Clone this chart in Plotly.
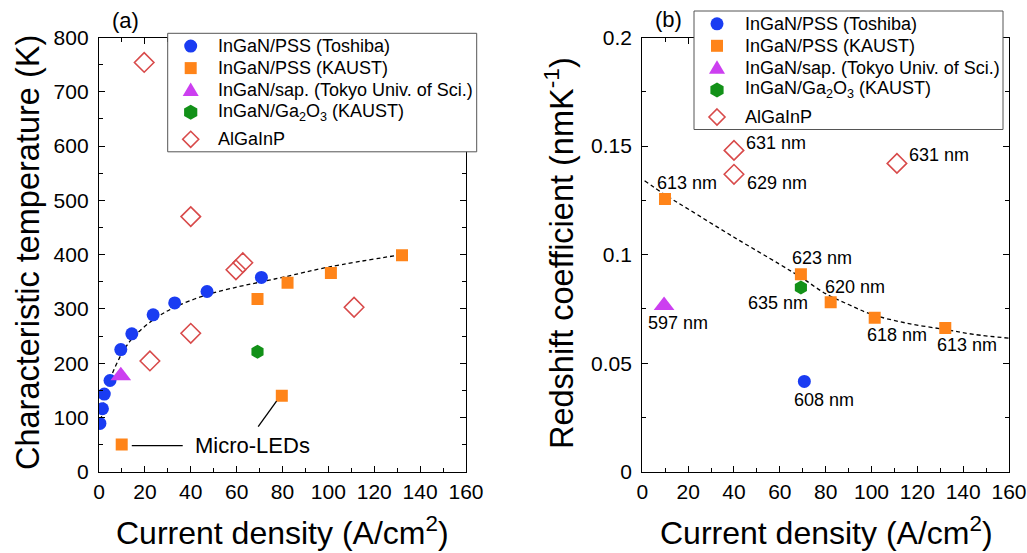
import plotly.graph_objects as go

# ---------------- data: panel (a) characteristic temperature ----------------
toshiba_j = [0.4, 1.5, 2.3, 4.8, 9.5, 14.3, 23.6, 33.0, 47.1, 70.8]
toshiba_t0 = [89, 116, 143, 168, 225, 254, 289, 311, 332, 358]
kaust_j = [9.9, 69.1, 79.7, 82.2, 101.1, 132.1]
kaust_t0 = [50, 318, 140, 348, 366, 399]
tokyo_j = [9.5]
tokyo_t0 = [177]
ga2o3_j = [69.1]
ga2o3_t0 = [221]
algainp_j = [19.7, 22.2, 40.0, 40.0, 59.7, 62.7, 111.2]
algainp_t0 = [754, 204, 470, 255, 372, 385, 303]
fit_a_j = [0.3, 1.5, 2.5, 5, 10, 15, 24, 33, 47, 61, 71, 81, 100, 132]
fit_a_t0 = [82, 112, 138, 172, 218, 248, 281, 303, 326, 341, 350, 359, 377, 400]

# ---------------- data: panel (b) redshift coefficient ----------------
toshiba_rj = [70.7]
toshiba_rc = [0.0416]
kaust_rj = [9.9, 69.2, 82.2, 101.4, 132.2]
kaust_rc = [0.1256, 0.091, 0.078, 0.0709, 0.0662]
tokyo_rj = [9.5]
tokyo_rc = [0.0765]
ga2o3_rj = [69.2]
ga2o3_rc = [0.0849]
algainp_rj = [40.0, 40.0, 111.1]
algainp_rc = [0.148, 0.137, 0.142]
fit_b_j = [1, 10, 20, 40, 60, 70, 80, 90, 100, 115, 132, 145, 160]
fit_b_c = [0.134, 0.1275, 0.121, 0.108, 0.0955, 0.089, 0.082, 0.077, 0.0725, 0.0685, 0.0655, 0.0632, 0.0615]

wl_labels = ["613 nm", "623 nm", "620 nm", "635 nm", "597 nm", "618 nm", "613 nm", "608 nm",
             "631 nm", "629 nm", "631 nm"]
wl_label_j = [19.4, 78.3, 92.8, 59.3, 15.7, 111.0, 141.5, 79.3, 58.3, 58.6, 129.4]
wl_label_c = [0.1328, 0.0985, 0.0852, 0.0775, 0.0684, 0.0630, 0.0583, 0.0331, 0.1512, 0.1328, 0.1458]

series_names = ["InGaN/PSS (Toshiba)", "InGaN/PSS (KAUST)", "InGaN/sap. (Tokyo Univ. of Sci.)",
                "InGaN/Ga<sub>2</sub>O<sub>3</sub> (KAUST)", "AlGaInP"]

FONT = "Liberation Sans, Arial, sans-serif"
BLUE = "#1a3cf2"
ORANGE = "#ff8419"
MAGENTA = "#cc3ff0"
GREEN = "#129118"
RED = "#d84a4a"

markers = [
    dict(symbol="circle", size=13, color=BLUE, line=dict(width=0)),
    dict(symbol="square", size=12, color=ORANGE, line=dict(width=0)),
    dict(symbol="triangle-up", size=18, color=MAGENTA, line=dict(width=0)),
    dict(symbol="hexagon", size=14, color=GREEN, line=dict(width=0)),
    dict(symbol="diamond-open", size=15, color=RED, line=dict(width=1.6, color=RED)),
]

fig = go.Figure()

# fit curves (drawn first, below markers)
fig.add_trace(go.Scatter(x=fit_a_j, y=fit_a_t0, mode="lines", line=dict(color="black", width=1.3, dash="4px,3px", shape="spline"),
                         showlegend=False, hoverinfo="skip", xaxis="x", yaxis="y"))
fig.add_trace(go.Scatter(x=fit_b_j, y=fit_b_c, mode="lines", line=dict(color="black", width=1.3, dash="4px,3px", shape="spline"),
                         showlegend=False, hoverinfo="skip", xaxis="x2", yaxis="y2"))

panel_a = [(toshiba_j, toshiba_t0), (kaust_j, kaust_t0), (tokyo_j, tokyo_t0), (ga2o3_j, ga2o3_t0), (algainp_j, algainp_t0)]
panel_b = [(toshiba_rj, toshiba_rc), (kaust_rj, kaust_rc), (tokyo_rj, tokyo_rc), (ga2o3_rj, ga2o3_rc), (algainp_rj, algainp_rc)]

for (x, y), name, mk in zip(panel_a, series_names, markers):
    fig.add_trace(go.Scatter(x=x, y=y, mode="markers", name=name, marker=mk, xaxis="x", yaxis="y", showlegend=False))
for (x, y), name, mk in zip(panel_b, series_names, markers):
    fig.add_trace(go.Scatter(x=x, y=y, mode="markers", name=name, marker=mk, xaxis="x2", yaxis="y2", showlegend=False))

axis_common = dict(showline=True, linecolor="black", linewidth=1.3, mirror="ticks", ticks="inside",
                   ticklen=6, tickwidth=1.2, tickcolor="black", showgrid=False, zeroline=False,
                   automargin=False,
                   tickfont=dict(size=21, color="black", family=FONT))

W, H = 1027, 553

fig.update_layout(
    width=W, height=H,
    margin=dict(l=0, r=0, t=0, b=0, pad=0, autoexpand=False),
    paper_bgcolor="white", plot_bgcolor="white",
    font=dict(family=FONT, color="black"),
    showlegend=False,
    xaxis=dict(domain=[99 / W, 466 / W], range=[0, 160], dtick=20, tick0=0, anchor="y", ticklabelstandoff=1,
               minor=dict(dtick=10, ticks="inside", ticklen=4, tickwidth=1.2, tickcolor="black", showgrid=False),
               **axis_common),
    yaxis=dict(domain=[1 - 471.7 / H, 1 - 37.5 / H], range=[0, 800], dtick=100, tick0=0, anchor="x", ticklabelstandoff=5,
               minor=dict(dtick=50, ticks="inside", ticklen=4, tickwidth=1.2, tickcolor="black", showgrid=False),
               **axis_common),
    xaxis2=dict(domain=[642.3 / W, 1009 / W], range=[0, 160], dtick=20, tick0=0, anchor="y2", ticklabelstandoff=1,
                minor=dict(dtick=10, ticks="inside", ticklen=4, tickwidth=1.2, tickcolor="black", showgrid=False),
                **axis_common),
    yaxis2=dict(domain=[1 - 471.7 / H, 1 - 37.5 / H], range=[0, 0.2], dtick=0.05, tick0=0, anchor="x2", ticklabelstandoff=5,
                minor=dict(dtick=0.025, ticks="inside", ticklen=4, tickwidth=1.2, tickcolor="black", showgrid=False),
                **axis_common),
)

def px(x):
    return x / W

def py(y):
    return 1 - y / H

annotations = [
    dict(text="Characteristic temperature (K)", x=px(28), y=py(253), xref="paper", yref="paper",
         textangle=-90, showarrow=False, font=dict(size=32.5), xanchor="center", yanchor="middle"),
    dict(text="Redshift coefficient (nmK<sup>-1</sup>)", x=px(559), y=py(253), xref="paper", yref="paper",
         textangle=-90, showarrow=False, font=dict(size=32.5), xanchor="center", yanchor="middle"),
    dict(text="Current density (A/cm<sup>2</sup>)", x=px(282.5), y=py(531), xref="paper", yref="paper",
         showarrow=False, font=dict(size=32), xanchor="center", yanchor="middle"),
    dict(text="Current density (A/cm<sup>2</sup>)", x=px(826), y=py(531), xref="paper", yref="paper",
         showarrow=False, font=dict(size=32), xanchor="center", yanchor="middle"),
    dict(text="(a)", x=px(125), y=py(21), xref="paper", yref="paper",
         showarrow=False, font=dict(size=22), xanchor="center", yanchor="middle"),
    dict(text="(b)", x=px(668), y=py(19), xref="paper", yref="paper",
         showarrow=False, font=dict(size=22), xanchor="center", yanchor="middle"),
    dict(text="Micro-LEDs", x=41.0, y=49, xref="x", yref="y", showarrow=False,
         font=dict(size=22), xanchor="left", yanchor="middle"),
]
for t, xj, yc in zip(wl_labels, wl_label_j, wl_label_c):
    annotations.append(dict(text=t, x=xj, y=yc, xref="x2", yref="y2", showarrow=False,
                            font=dict(size=18), xanchor="center", yanchor="middle"))

shapes = [
    dict(type="line", xref="x", yref="y", x0=14.3, y0=48, x1=36.5, y1=48, line=dict(color="black", width=1.3)),
    dict(type="line", xref="x", yref="y", x0=69.4, y0=83, x1=77.4, y1=130, line=dict(color="black", width=1.3)),
]

# ---------------- legends (drawn on top of the axes frame) ----------------
legend_boxes = [(167.7, 33.3), (694.0, 11.0)]   # top-left corners in pixels
BOX_W, BOX_H = 309, 118.5
row_offsets = [12.8, 34.8, 56.8, 79.0, 106.0]
SYM_DX, TEXT_DX = 23.0, 48.5
colors = [BLUE, ORANGE, MAGENTA, GREEN, RED]
kinds = ["circle", "square", "triangle", "hexagon", "diamond"]


def symbol_shape(kind, cx, cy, color):
    if kind == "circle":
        r = 6.5
        return dict(type="circle", xref="paper", yref="paper", x0=px(cx - r), x1=px(cx + r),
                    y0=py(cy + r), y1=py(cy - r), fillcolor=color, line=dict(width=0), layer="above")
    if kind == "square":
        r = 6.0
        return dict(type="rect", xref="paper", yref="paper", x0=px(cx - r), x1=px(cx + r),
                    y0=py(cy + r), y1=py(cy - r), fillcolor=color, line=dict(width=0), layer="above")
    if kind == "triangle":
        pts = [(cx, cy - 7.5), (cx + 8, cy + 6), (cx - 8, cy + 6)]
    elif kind == "hexagon":
        pts = [(cx, cy - 7.5), (cx + 6.6, cy - 3.75), (cx + 6.6, cy + 3.75), (cx, cy + 7.5),
               (cx - 6.6, cy + 3.75), (cx - 6.6, cy - 3.75)]
    else:
        pts = [(cx, cy - 8), (cx + 8, cy), (cx, cy + 8), (cx - 8, cy)]
    path = "M " + " L ".join(f"{px(a):.6f},{py(b):.6f}" for a, b in pts) + " Z"
    if kind == "diamond":
        return dict(type="path", xref="paper", yref="paper", path=path, fillcolor="rgba(0,0,0,0)",
                    line=dict(color=color, width=1.6), layer="above")
    return dict(type="path", xref="paper", yref="paper", path=path, fillcolor=color,
                line=dict(width=0), layer="above")


for bx, by in legend_boxes:
    shapes.append(dict(type="rect", xref="paper", yref="paper", x0=px(bx), x1=px(bx + BOX_W),
                       y0=py(by + BOX_H), y1=py(by), fillcolor="white",
                       line=dict(color="#555555", width=1), layer="above"))
    for name, kind, col, off in zip(series_names, kinds, colors, row_offsets):
        shapes.append(symbol_shape(kind, bx + SYM_DX, by + off, col))
        annotations.append(dict(text=name, x=px(bx + TEXT_DX), y=py(by + off), xref="paper", yref="paper",
                                showarrow=False, font=dict(size=18), xanchor="left", yanchor="middle"))

fig.update_layout(annotations=annotations, shapes=shapes)

fig.write_html("out.html")
